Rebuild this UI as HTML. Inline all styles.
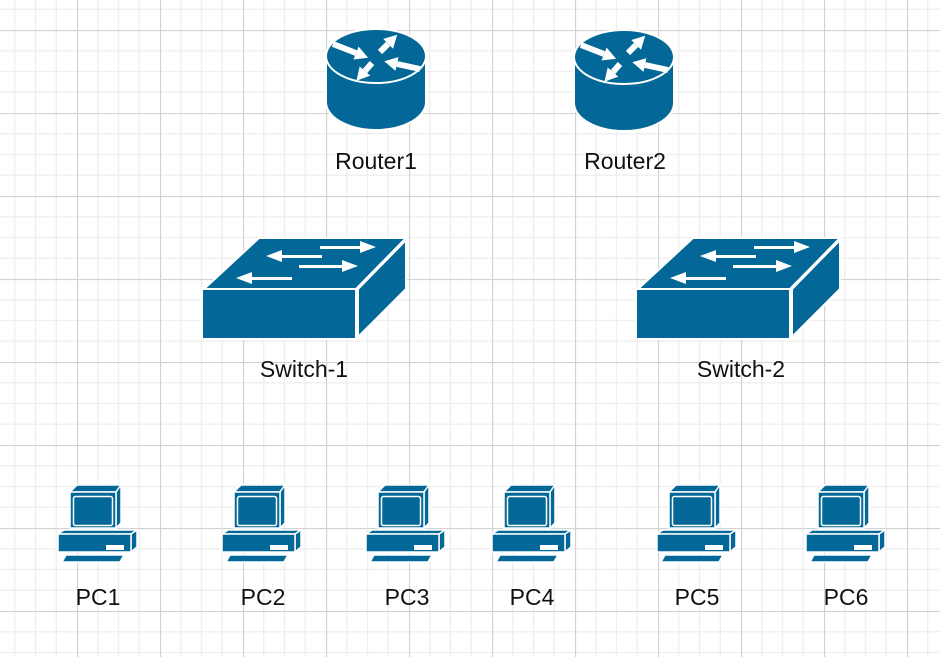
<!DOCTYPE html>
<html><head><meta charset="utf-8"><style>
html,body{margin:0;padding:0;background:#fff;}
svg{display:block;}
text{font-family:"Liberation Sans",Arial,sans-serif;font-size:23px;fill:#111;text-anchor:middle;}
</style></head><body>
<svg width="940" height="657" viewBox="0 0 940 657" xmlns="http://www.w3.org/2000/svg">
<defs>
<pattern id="g" x="77" y="30" width="83" height="83" patternUnits="userSpaceOnUse">
<path d="M20.75 0V83M41.5 0V83M62.25 0V83M0 20.75H83M0 41.5H83M0 62.25H83" stroke="#eeeeee" stroke-width="1.3" fill="none"/>
<path d="M0.5 0V83M0 0.5H83" stroke="#d2d2d2" stroke-width="1.3" fill="none"/>
</pattern>
<marker id="ah" markerUnits="userSpaceOnUse" markerWidth="16" markerHeight="16" refX="0" refY="8" orient="auto" viewBox="0 0 16 16">
<path d="M0 1 L13 8 L0 15 Z" fill="#fff"/>
</marker>
<g id="router">
<path d="M-50 26 V72 A50 28 0 0 0 50 72 V26 Z" fill="#036897" stroke="#fff" stroke-width="2"/>
<ellipse cx="0" cy="26" rx="50" ry="27" fill="#036897" stroke="#fff" stroke-width="2"/>
<g stroke="#fff" stroke-width="6" marker-end="url(#ah)">
<line x1="-43" y1="14" x2="-20" y2="23"/>
<line x1="4" y1="22" x2="12" y2="14"/>
<line x1="44" y1="39" x2="21" y2="34"/>
<line x1="-4" y1="33" x2="-11" y2="41"/>
</g>
</g>
<g id="switch">
<polygon points="2,52 57,1 204,1 154,52" fill="#036897" stroke="#fff" stroke-width="2"/>
<rect x="0" y="52" width="154" height="50" fill="#036897" stroke="#fff" stroke-width="2"/>
<polygon points="156,52 204,3 204,52 156,100" fill="#036897" stroke="#fff" stroke-width="2"/>
<g fill="#fff">
<rect x="118" y="9" width="42" height="3"/><polygon points="158,4 174,10 158,16"/>
<rect x="78" y="18" width="42" height="3"/><polygon points="80,13 64,19 80,25"/>
<rect x="97" y="28" width="45" height="3"/><polygon points="140,23 156,29 140,35"/>
<rect x="48" y="40" width="42" height="3"/><polygon points="50,35 34,41 50,47"/>
</g>
</g>
<g id="pc">
<polygon points="13,7 20,0 64,0 59,7" fill="#036897" stroke="#fff" stroke-width="1.5"/>
<polygon points="59,7 64,0 64,38 59,43" fill="#036897" stroke="#fff" stroke-width="1.5"/>
<rect x="13" y="7" width="46" height="36" fill="#036897" stroke="#fff" stroke-width="1.5"/>
<rect x="16.5" y="11.5" width="39" height="29" rx="2" fill="#036897" stroke="#fff" stroke-width="1.5"/>
<polygon points="7,45 80,45 74,49 1,49" fill="#036897" stroke="#fff" stroke-width="1.5"/>
<polygon points="74,49 80,45 80,62 74,67" fill="#036897" stroke="#fff" stroke-width="1.5"/>
<rect x="1" y="49" width="73" height="18" fill="#036897" stroke="#fff" stroke-width="1.5"/>
<rect x="49" y="60" width="18" height="5" fill="#fff"/>
<polygon points="9,70 67,70 63,77 5,77" fill="#036897" stroke="#fff" stroke-width="1.5"/>
</g>
</defs>
<rect width="940" height="657" fill="url(#g)"/>
<use href="#router" x="376" y="30"/>
<use href="#router" x="624" y="31"/>
<text x="376" y="169">Router1</text>
<text x="625" y="169">Router2</text>
<use href="#switch" x="202" y="237"/>
<use href="#switch" x="636" y="237"/>
<text x="304" y="377">Switch-1</text>
<text x="741" y="377">Switch-2</text>
<use href="#pc" x="57" y="485"/>
<use href="#pc" x="221" y="485"/>
<use href="#pc" x="365" y="485"/>
<use href="#pc" x="491" y="485"/>
<use href="#pc" x="656" y="485"/>
<use href="#pc" x="805" y="485"/>
<text x="98" y="605">PC1</text>
<text x="263" y="605">PC2</text>
<text x="407" y="605">PC3</text>
<text x="532" y="605">PC4</text>
<text x="697" y="605">PC5</text>
<text x="846" y="605">PC6</text>
</svg>
</body></html>
